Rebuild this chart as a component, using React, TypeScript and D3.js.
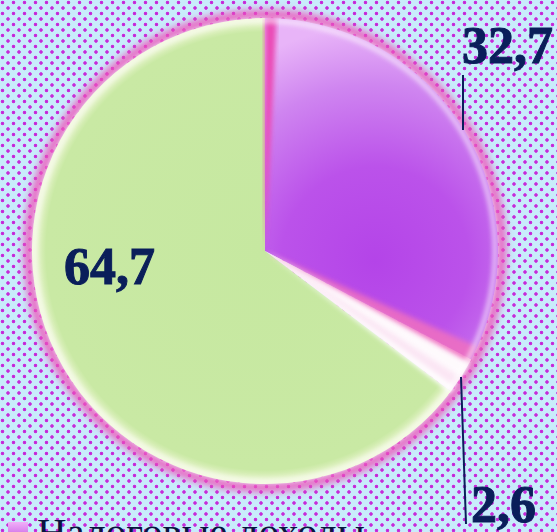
import React, { useEffect, useRef } from 'react';
import * as d3 from 'd3';

const categories = ['Неналоговые доходы', 'Прочие', 'Налоговые доходы'];
const values = [32.7, 2.6, 64.7];
const labels = ['32,7', '2,6', '64,7'];
const legendLabels = ['Налоговые доходы'];

const W = 557;
const H = 532;

export default function App() {
  const ref = useRef<SVGSVGElement>(null);

  useEffect(() => {
    const svg = d3.select(ref.current).attr('width', W).attr('height', H).html('');
    const defs = svg.append('defs');

    // dotted background
    const pat = defs.append('pattern').attr('id', 'dots')
      .attr('width', 11).attr('height', 11).attr('patternUnits', 'userSpaceOnUse');
    pat.append('rect').attr('width', 11).attr('height', 11).attr('fill', '#c8ecfb');
    const dg = defs.append('radialGradient').attr('id', 'dotg');
    dg.append('stop').attr('offset', '0%').attr('stop-color', '#c020d8');
    dg.append('stop').attr('offset', '65%').attr('stop-color', '#c838dc');
    dg.append('stop').attr('offset', '100%').attr('stop-color', '#c838dc').attr('stop-opacity', 0);
    [[2.5, 2.5], [8, 8]].forEach(([x, y]) => {
      pat.append('circle').attr('cx', x).attr('cy', y).attr('r', 2.2).attr('fill', 'url(#dotg)');
    });
    svg.append('rect').attr('width', W).attr('height', H).attr('fill', 'url(#dots)');

    const blur = defs.append('filter').attr('id', 'blur').attr('x', '-20%').attr('y', '-20%')
      .attr('width', '140%').attr('height', '140%');
    blur.append('feGaussianBlur').attr('stdDeviation', 4);
    const soft = defs.append('filter').attr('id', 'soft').attr('x', '-20%').attr('y', '-20%')
      .attr('width', '140%').attr('height', '140%');
    soft.append('feGaussianBlur').attr('stdDeviation', 2.5);

    // gradients are in the pie group's coordinates (origin = pie centre)
    const purple = defs.append('radialGradient').attr('id', 'purp')
      .attr('gradientUnits', 'userSpaceOnUse').attr('cx', 110).attr('cy', 10).attr('r', 235);
    purple.append('stop').attr('offset', '0%').attr('stop-color', '#b444e8');
    purple.append('stop').attr('offset', '40%').attr('stop-color', '#bb52ea');
    purple.append('stop').attr('offset', '75%').attr('stop-color', '#cf85f0');
    purple.append('stop').attr('offset', '100%').attr('stop-color', '#e8b4f8');

    const green = defs.append('radialGradient').attr('id', 'grn')
      .attr('gradientUnits', 'userSpaceOnUse').attr('cx', 0).attr('cy', 0).attr('r', 233);
    green.append('stop').attr('offset', '0%').attr('stop-color', '#c6e8a0');
    green.append('stop').attr('offset', '94%').attr('stop-color', '#c9e9a4');
    green.append('stop').attr('offset', '100%').attr('stop-color', '#f2f8da');

    const fills = ['url(#purp)', '#fbe6f4', 'url(#grn)'];

    const cx = 265, cy = 251, R = 233;
    const g = svg.append('g').attr('transform', `translate(${cx},${cy})`);

    // pink halo around the pie
    g.append('circle').attr('r', R + 3).attr('fill', 'none')
      .attr('stroke', '#f050b8').attr('stroke-width', 9).attr('filter', 'url(#blur)');

    const pie = d3.pie<number>().value(d => d).sort(null);
    const arcs = pie(values);
    const arc = d3.arc<d3.PieArcDatum<number>>().innerRadius(0).outerRadius(R);

    g.selectAll('path.slice').data(arcs).enter().append('path')
      .attr('class', 'slice')
      .attr('d', arc)
      .attr('fill', (d, i) => fills[i]);

    // pink edges on the purple slice and the small slice
    const edge = d3.arc<any>().innerRadius(0).outerRadius(R);
    const a0 = arcs[0].startAngle, a1 = arcs[1].startAngle, a2 = arcs[1].endAngle;
    const seam = (a: number, w: number) => edge({ startAngle: a, endAngle: a + w });
    g.append('path').attr('d', seam(a0, 0.05)).attr('fill', '#ea4cb6').attr('filter', 'url(#soft)');
    g.append('path').attr('d', seam(a1 - 0.06, 0.08)).attr('fill', '#f070c0').attr('opacity', 0.85).attr('filter', 'url(#soft)');
    g.append('path').attr('d', seam(a2 - 0.025, 0.03)).attr('fill', '#ffffff').attr('filter', 'url(#soft)');
    g.append('path').attr('d', seam(a1 + 0.02, 0.07)).attr('fill', '#ffffff').attr('opacity', 0.8).attr('filter', 'url(#soft)');

    // outer rim highlight
    g.append('circle').attr('r', R - 3).attr('fill', 'none')
      .attr('stroke', '#ffffff').attr('stroke-width', 4).attr('opacity', 0.7).attr('filter', 'url(#soft)');

    const navy = '#0a1e5a';
    const font = '"Liberation Serif", "Times New Roman", serif';

    // leader lines
    const lines = [
      [[463, 75], [463, 130]],
      [[461, 377], [466, 524]],
    ];
    svg.selectAll('line.lead').data(lines).enter().append('line')
      .attr('class', 'lead')
      .attr('x1', d => d[0][0]).attr('y1', d => d[0][1])
      .attr('x2', d => d[1][0]).attr('y2', d => d[1][1])
      .attr('stroke', navy).attr('stroke-width', 2);

    const labelPos = [[462, 63], [471, 522], [64, 284]];
    svg.selectAll('text.val').data(labels).enter().append('text')
      .attr('class', 'val')
      .attr('x', (d, i) => labelPos[i][0]).attr('y', (d, i) => labelPos[i][1])
      .attr('fill', navy).attr('stroke', navy).attr('stroke-width', 1)
      .style('font-family', font).style('font-weight', 'bold').style('font-size', '52px')
      .text(d => d);

    // legend (cut off at the bottom, as in the original)
    const lg = defs.append('linearGradient').attr('id', 'lgm').attr('x1', 0).attr('y1', 0).attr('x2', 0).attr('y2', 1);
    lg.append('stop').attr('offset', '0%').attr('stop-color', '#f0b0f8');
    lg.append('stop').attr('offset', '100%').attr('stop-color', '#c050e0');
    svg.append('rect').attr('x', 8).attr('y', 522).attr('width', 20).attr('height', 20)
      .attr('fill', 'url(#lgm)');
    svg.append('text').attr('x', 37).attr('y', 546)
      .attr('fill', '#0a1440')
      .style('font-family', font).style('font-size', '41px')
      .text(legendLabels[0]);
  }, []);

  return <svg ref={ref} style={{ position: 'absolute', left: 0, top: 0 }} />;
}
